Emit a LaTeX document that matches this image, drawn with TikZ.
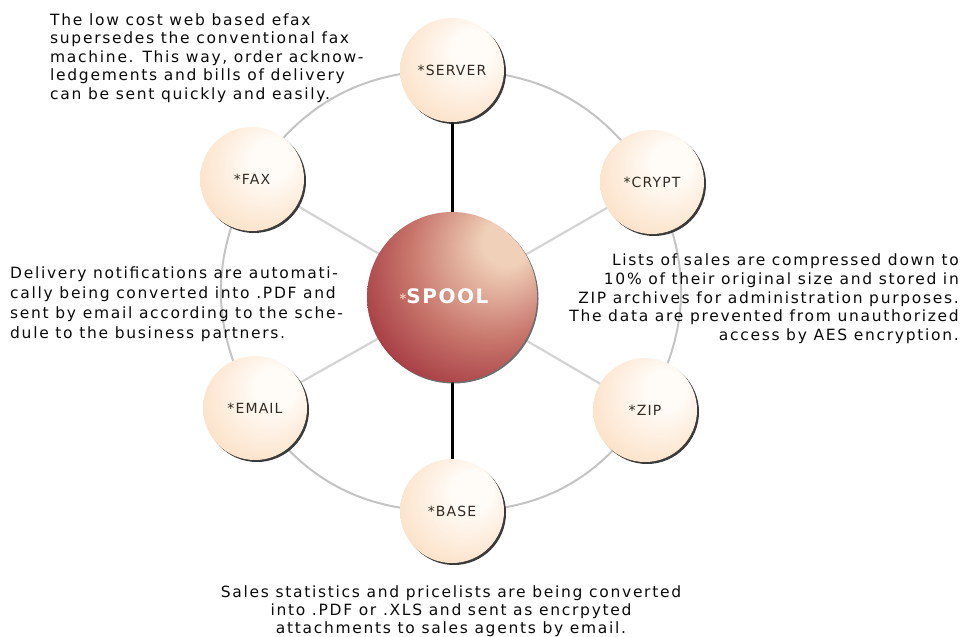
\documentclass[tikz,border=0pt]{standalone}
\usepackage{fontspec}
\setmainfont{DejaVu Sans}
\newfontfamily\txtfont[LetterSpace=11]{DejaVu Sans}
\newfontfamily\lblfont[LetterSpace=8]{DejaVu Sans}
\newfontfamily\spoolfont[LetterSpace=8]{DejaVu Sans Bold}
\usetikzlibrary{shadows}
\definecolor{ballwhite}{RGB}{255,251,246}
\definecolor{ballpeach}{RGB}{250,212,176}
\definecolor{spoolA}{RGB}{240,208,184}
\definecolor{spoolB}{RGB}{200,118,108}
\definecolor{spoolC}{RGB}{148,28,46}
\definecolor{lblcol}{RGB}{50,42,34}
\definecolor{txtcol}{RGB}{10,10,10}
\definecolor{ringcol}{RGB}{196,196,196}
\definecolor{spokecol}{RGB}{212,212,212}
\pgfdeclareradialshading{ballshade}{\pgfpoint{12bp}{12bp}}{color(0bp)=(ballwhite); color(10bp)=(ballwhite); color(44bp)=(ballpeach); color(50bp)=(ballpeach)}
\pgfdeclareradialshading{spoolshade}{\pgfpoint{18bp}{18bp}}{color(0bp)=(spoolA); color(7bp)=(spoolA); color(24bp)=(spoolB); color(44bp)=(spoolC); color(65bp)=(spoolC)}
\pgfdeclarelayer{bg}
\pgfsetlayers{bg,main}
\begin{document}
\begin{tikzpicture}[x=1pt,y=-1pt,
  ball/.style={circle, minimum size=104pt, inner sep=0pt, shading=ballshade,
    drop shadow={shadow xshift=2pt, shadow yshift=-2pt, fill=black!85, opacity=0.9},
    font=\lblfont\fontsize{14}{16}\selectfont, text=lblcol},
  bigball/.style={circle, minimum size=170pt, inner sep=0pt, shading=spoolshade,
    drop shadow={shadow xshift=1.5pt, shadow yshift=-1.5pt, fill=black!70, opacity=0.8}},
  ring/.style={draw=ringcol, line width=2pt},
  spoke/.style={draw=spokecol, line width=2.2pt},
  darkspoke/.style={draw=black, line width=3pt},
  para/.style={inner sep=0pt, text=txtcol, font=\txtfont\fontsize{15.5}{18.5}\selectfont}
]
\begin{pgfonlayer}{bg}
  \useasboundingbox[fill=white] (0,0) rectangle (966,636);
\end{pgfonlayer}

\node[bigball] (spool) at (452,297) {};
\node[font=\spoolfont\fontsize{20}{22}\selectfont, text=white, inner sep=0pt] (spooltxt) at (444,296) {{\color{spoolA}\fontsize{13}{14}\selectfont *}SPOOL};

\node[ball] (server) at (452,70) {*SERVER};
\node[ball] (crypt) at (652,182) {*CRYPT};
\node[ball] (zip) at (645,410) {*ZIP};
\node[ball] (base) at (452,511) {*BASE};
\node[ball] (email) at (255,408) {*EMAIL};
\node[ball] (fax) at (252,179) {*FAX};

\begin{pgfonlayer}{bg}
  \draw[ring] (server.center) to[bend left=29] (crypt.center);
  \draw[ring] (crypt.center) to[bend left=29] (zip.center);
  \draw[ring] (zip.center) to[bend left=29] (base.center);
  \draw[ring] (base.center) to[bend left=29] (email.center);
  \draw[ring] (email.center) to[bend left=29] (fax.center);
  \draw[ring] (fax.center) to[bend left=29] (server.center);
  \draw[spoke] (spool.center) -- (fax.center);
  \draw[spoke] (spool.center) -- (crypt.center);
  \draw[spoke] (spool.center) -- (zip.center);
  \draw[spoke] (spool.center) -- (email.center);
  \draw[darkspoke] (spool.center) -- (server.center);
  \draw[darkspoke] (spool.center) -- (base.center);
\end{pgfonlayer}

\node[para, anchor=north west, align=left] (t1) at (50,13.5)
  {The low cost web based efax\\supersedes the conventional fax\\machine. This way, order acknow-\\ledgements and bills of delivery\\can be sent quickly and easily.};
\node[para, anchor=north west, align=left, font=\txtfont\fontsize{15.5}{20}\selectfont] (t2) at (10,266.5)
  {Delivery notifications are automati-\\cally being converted into .PDF and\\sent by email according to the sche-\\dule to the business partners.};
\node[para, anchor=north east, align=right, font=\txtfont\fontsize{15.5}{18.8}\selectfont] (t3) at (959,253.5)
  {Lists of sales are compressed down to\\10\% of their original size and stored in\\ZIP archives for administration purposes.\\The data are prevented from unauthorized\\access by AES encryption.};
\node[para, anchor=north, align=center, font=\txtfont\fontsize{15.5}{18}\selectfont] (t4) at (451,585.5)
  {Sales statistics and pricelists are being converted\\into .PDF or .XLS and sent as encrpyted\\attachments to sales agents by email.};
\end{tikzpicture}
\end{document}
